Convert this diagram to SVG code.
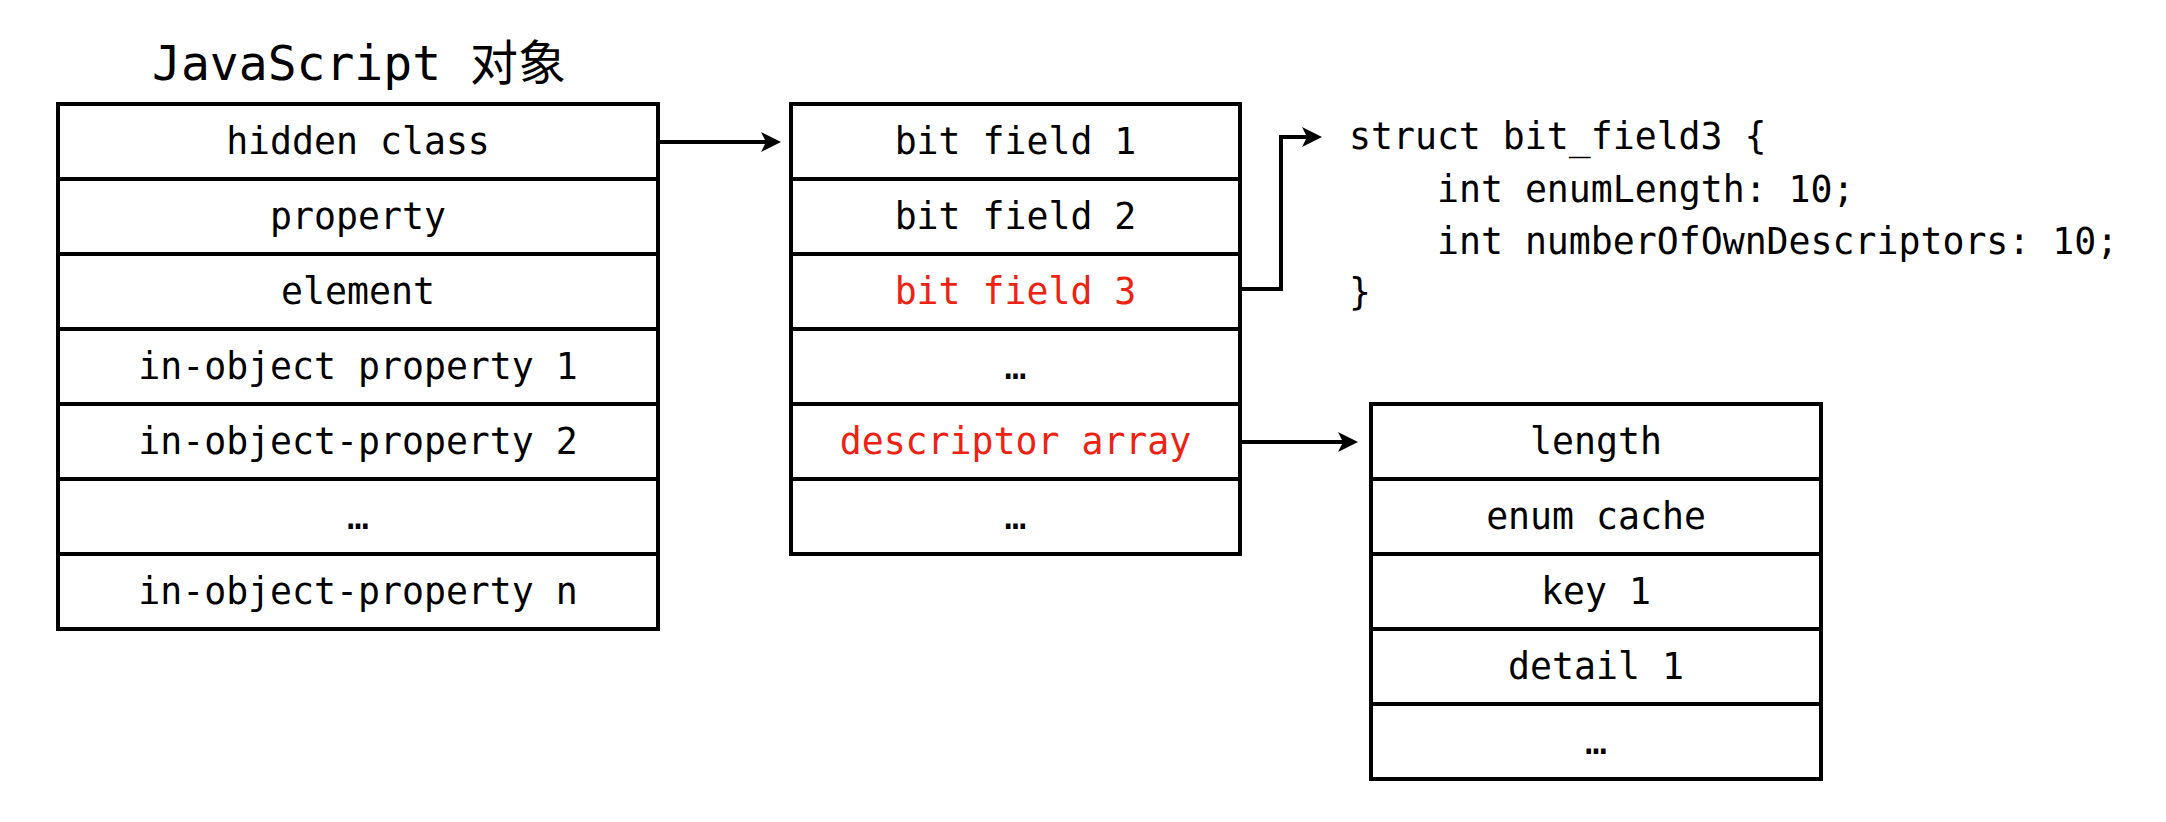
<svg xmlns="http://www.w3.org/2000/svg" width="2166" height="822" viewBox="0 0 2166 822">
  <style>
    .box { fill: #ffffff; stroke: #000000; stroke-width: 4; }
    .div { stroke: #000000; stroke-width: 4; fill: none; }
    .t { font-family: "DejaVu Sans Mono", "Liberation Mono", "Noto Sans CJK SC", monospace; font-size: 36.5px; fill: #000000; text-anchor: middle; }
    .red { fill: #ee2212; }
    .code { font-family: "DejaVu Sans Mono", "Liberation Mono", monospace; font-size: 36.5px; fill: #000000; }
    .title { font-family: "DejaVu Sans Mono", "Liberation Mono", "Noto Sans CJK SC", monospace; font-size: 48px; fill: #000000; text-anchor: middle; }
    .conn { stroke: #000000; stroke-width: 4; fill: none; marker-end: url(#arrow); }
  </style>
  <defs>
    <marker id="arrow" viewBox="0 0 20 20" markerWidth="20" markerHeight="20" markerUnits="userSpaceOnUse" refX="5" refY="10" orient="auto">
      <path d="M0,0 L20,10 L0,20 L5,10 Z" fill="#000000"/>
    </marker>
  </defs>
  <rect width="2166" height="822" fill="#ffffff"/>

  <g id="title">
    <text class="title" x="359" y="80">JavaScript 对象</text>
  </g>

  <g id="js-object">
    <rect class="box" x="58" y="104" width="600" height="525"/>
    <path class="div" d="M58,179 H658 M58,254 H658 M58,329 H658 M58,404 H658 M58,479 H658 M58,554 H658"/>
    <text class="t" x="358" y="153.5">hidden class</text>
    <text class="t" x="358" y="228.5">property</text>
    <text class="t" x="358" y="303.5">element</text>
    <text class="t" x="358" y="378.5">in-object property 1</text>
    <text class="t" x="358" y="453.5">in-object-property 2</text>
    <text class="t" x="358" y="528.5">…</text>
    <text class="t" x="358" y="603.5">in-object-property n</text>
  </g>

  <g id="hidden-class">
    <rect class="box" x="791" y="104" width="449" height="450"/>
    <path class="div" d="M791,179 H1240 M791,254 H1240 M791,329 H1240 M791,404 H1240 M791,479 H1240"/>
    <text class="t" x="1015.5" y="153.5">bit field 1</text>
    <text class="t" x="1015.5" y="228.5">bit field 2</text>
    <text class="t red" x="1015.5" y="303.5">bit field 3</text>
    <text class="t" x="1015.5" y="378.5">…</text>
    <text class="t red" x="1015.5" y="453.5">descriptor array</text>
    <text class="t" x="1015.5" y="528.5">…</text>
  </g>

  <g id="struct-bit-field3">
    <text class="code" x="1349" y="149">struct bit_field3 {</text>
    <text class="code" x="1437" y="201.5">int enumLength: 10;</text>
    <text class="code" x="1437" y="254">int numberOfOwnDescriptors: 10;</text>
    <text class="code" x="1349" y="305">}</text>
  </g>

  <g id="descriptor-array">
    <rect class="box" x="1371" y="404" width="450" height="375"/>
    <path class="div" d="M1371,479 H1821 M1371,554 H1821 M1371,629 H1821 M1371,704 H1821"/>
    <text class="t" x="1596" y="453.5">length</text>
    <text class="t" x="1596" y="528.5">enum cache</text>
    <text class="t" x="1596" y="603.5">key 1</text>
    <text class="t" x="1596" y="678.5">detail 1</text>
    <text class="t" x="1596" y="753.5">…</text>
  </g>

  <g id="connectors">
    <path class="conn" d="M658,142 H766"/>
    <path class="conn" d="M1240,289 H1281 V137 H1307"/>
    <path class="conn" d="M1240,442 H1343"/>
  </g>
</svg>
